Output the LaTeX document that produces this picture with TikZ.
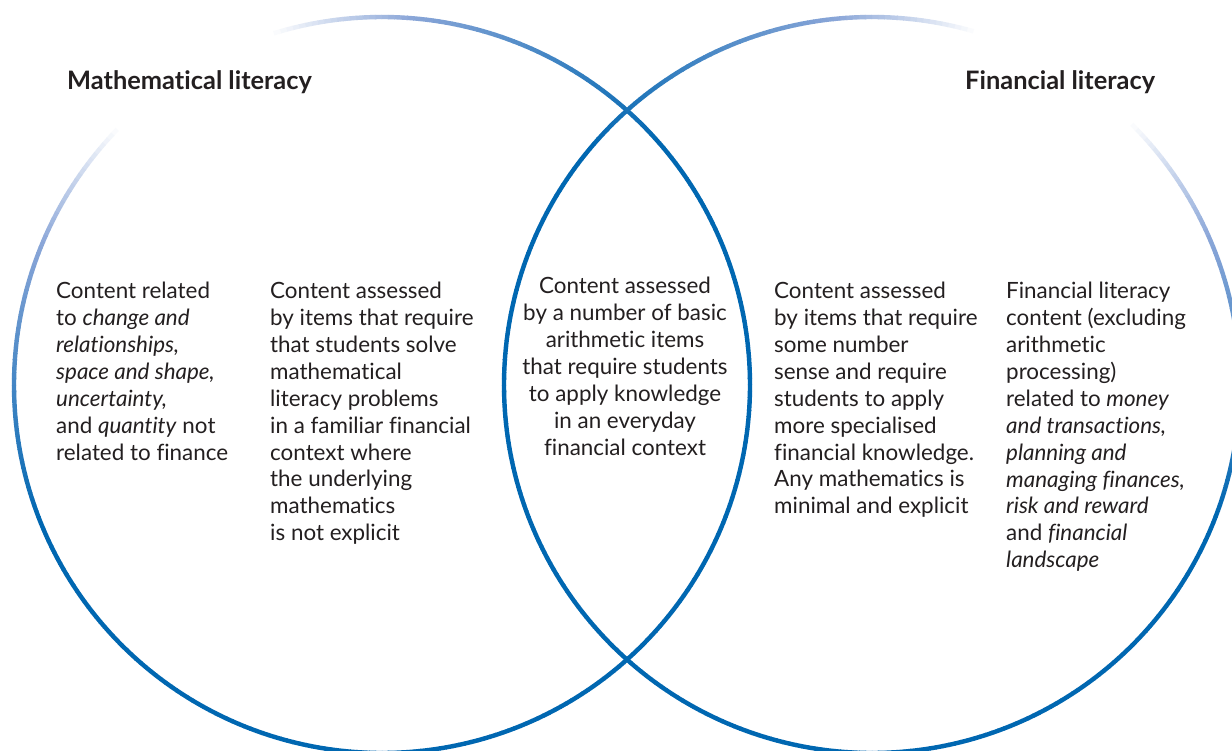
\documentclass[tikz,border=0pt]{standalone}
\usepackage{fontspec}
\setmainfont{Lato}[Ligatures={NoCommon}]
\usepackage{tikz}
\definecolor{vennblue}{RGB}{0,103,177}
\definecolor{vennlight}{RGB}{138,166,216}
\definecolor{inktext}{RGB}{35,31,32}

\begin{document}
\begin{tikzpicture}[x=1pt,y=1pt]
        \tikzset{ring/.style={line width=4.4pt},
          txt/.style={anchor=north west, inner sep=0pt, align=left, text=inktext,
            font=\fontsize{22.4}{26.9}\selectfont},
          head/.style={anchor=base west, inner sep=0pt, text=inktext,
            font=\fontsize{25.4}{28}\selectfont\bfseries}};

        \fill[white] (0,0) rectangle (1232,-751);
        \useasboundingbox (0,0) rectangle (1232,-751);
        \coordinate (mathc) at (382,-385);
        \coordinate (finc) at (872,-385);

        % the two circles, fading out behind the headings
        \foreach \c/\g in {mathc/121, finc/59} {
          \foreach \a in {0,1,...,359} {
            \pgfmathtruncatemacro\d{abs(mod(\a-\g+540,360)-180)}
            \pgfmathtruncatemacro\f{min(100,max(0,(\d-14)/22*100))}
            \pgfmathtruncatemacro\p{min(100,max(0,(\d-36)/44*100))}
            \ifnum\f>0
              \draw[ring, color=vennblue!\p!vennlight!\f!white] (\c) ++(\a:368)
                arc[start angle=\a, end angle=\a+1.1, radius=368];
            \fi
          }
        }

        \node[head] (mathhead) at (67,-90) {Mathematical literacy};
        \node[head] (finhead) at (965,-90) {Financial literacy};

        \node[txt] (mathonly) at (56,-282) {Content related\\ to \textit{change and}\\
          \textit{relationships,}\\ \textit{space and shape,}\\ \textit{uncertainty,}\\
          and \textit{quantity} not\\ related to finance};
        \node[txt] (mathside) at (270,-282) {Content assessed\\ by items that require\\
          that students solve\\ mathematical\\ literacy problems\\ in a familiar financial\\
          context where\\ the underlying\\ mathematics\\ is not explicit};
        \node[txt, anchor=north, align=center] (overlap) at (625,-277) {Content assessed\\
          by a number of basic\\ arithmetic items\\ that require students\\
          to apply knowledge\\ in an everyday\\ financial context};
        \node[txt] (finside) at (774,-282) {Content assessed\\ by items that require\\
          some number\\ sense and require\\ students to apply\\ more specialised\\
          financial knowledge.\\ Any mathematics is\\ minimal and explicit};
        \node[txt] (finonly) at (1006,-282) {Financial literacy\\ content (excluding\\
          arithmetic\\ processing)\\ related to \textit{money}\\ \textit{and transactions,}\\
          \textit{planning and}\\ \textit{managing finances,}\\ \textit{risk and reward}\\
          and \textit{financial}\\ \textit{landscape}};
    \end{tikzpicture}
\end{document}
